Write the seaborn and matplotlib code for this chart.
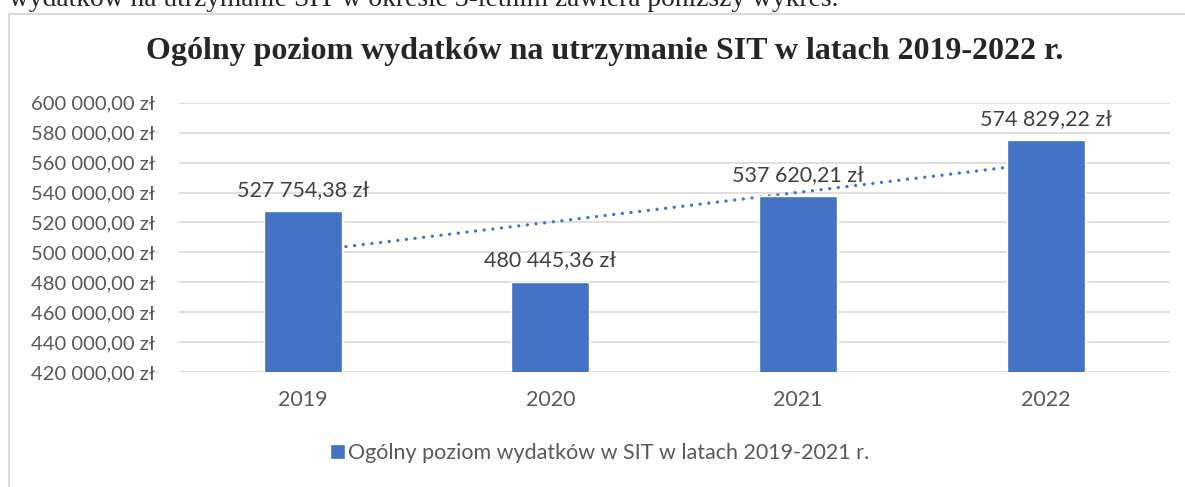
import numpy as np
import pandas as pd
import seaborn as sns
import matplotlib.pyplot as plt
from matplotlib.patches import Rectangle
from matplotlib.ticker import FuncFormatter, MultipleLocator

sns.set_theme(style="white")
plt.rcParams["font.family"] = ["Lato", "DejaVu Sans"]

YEARS = ["2019", "2020", "2021", "2022"]
EXPENSES = [527754.38, 480445.36, 537620.21, 574829.22]
SERIES = "Ogólny poziom wydatków w SIT w latach 2019-2021 r."
TITLE = "Ogólny poziom wydatków na utrzymanie SIT w latach 2019-2022 r."
INTRO = "wydatków na utrzymanie SIT w okresie 3-letnim zawiera poniższy wykres."

BLUE = "#4472C4"
GRAY_TXT = "#595959"
GRID = "#D9D9D9"


def pln(v, pos=None):
    return f"{v:,.2f}".replace(",", " ").replace(".", ",") + " zł"


df = pd.DataFrame({"rok": YEARS, "wydatki": EXPENSES, "seria": SERIES})

fig = plt.figure(figsize=(11.85, 4.87), dpi=100)
ax = fig.add_axes([0.151, 0.236, 0.836, 0.553])

# linear trend (Excel style), drawn behind bars
xs = np.arange(len(YEARS))
slope, intercept = np.polyfit(xs, EXPENSES, 1)
ax.plot(xs, slope * xs + intercept, linestyle=(0, (0.01, 2.6)), color=BLUE,
        linewidth=2.4, zorder=1, dash_capstyle="round")

sns.barplot(data=df, x="rok", y="wydatki", hue="seria", palette=[BLUE],
            width=0.315, ax=ax, zorder=2, saturation=1)

ax.bar_label(ax.containers[0], labels=[pln(v) for v in EXPENSES],
             padding=8, fontsize=15.5, color="#404040")

ax.set_ylim(420000, 600000)
ax.yaxis.set_major_locator(MultipleLocator(20000))
ax.yaxis.set_major_formatter(FuncFormatter(pln))
ax.set_xlim(-0.5, 3.5)
ax.set_xlabel("")
ax.set_ylabel("")
ax.grid(axis="y", color=GRID, linewidth=1.2, zorder=0)
ax.set_axisbelow(True)
sns.despine(ax=ax, left=True, bottom=True)
ax.tick_params(axis="y", length=0, pad=17, labelsize=14.5, labelcolor=GRAY_TXT)
ax.tick_params(axis="x", length=0, pad=13, labelsize=15.5, labelcolor=GRAY_TXT)

ax.legend(loc="center", bbox_to_anchor=(0.506, 1 - 453 / 487),
          bbox_transform=fig.transFigure, frameon=False, fontsize=15.5,
          labelcolor=GRAY_TXT, handlelength=0.7, handleheight=0.7,
          handletextpad=0.15)

fig.text(0.51, 1 - 51 / 487, TITLE, ha="center", va="center",
         fontsize=23, fontweight="bold", family=["Liberation Serif"])

# chart frame and clipped line of text above it
fig.add_artist(Rectangle((9 / 1185, -0.1), 1.2, 1.1 - 14 / 487,
                         transform=fig.transFigure, fill=False,
                         edgecolor=GRID, linewidth=1.5))
fig.text(0.008, 1 - 6 / 487, INTRO, ha="left", va="baseline",
         fontsize=19.8, family=["Liberation Serif"])

fig.savefig("out.png", dpi=100)
